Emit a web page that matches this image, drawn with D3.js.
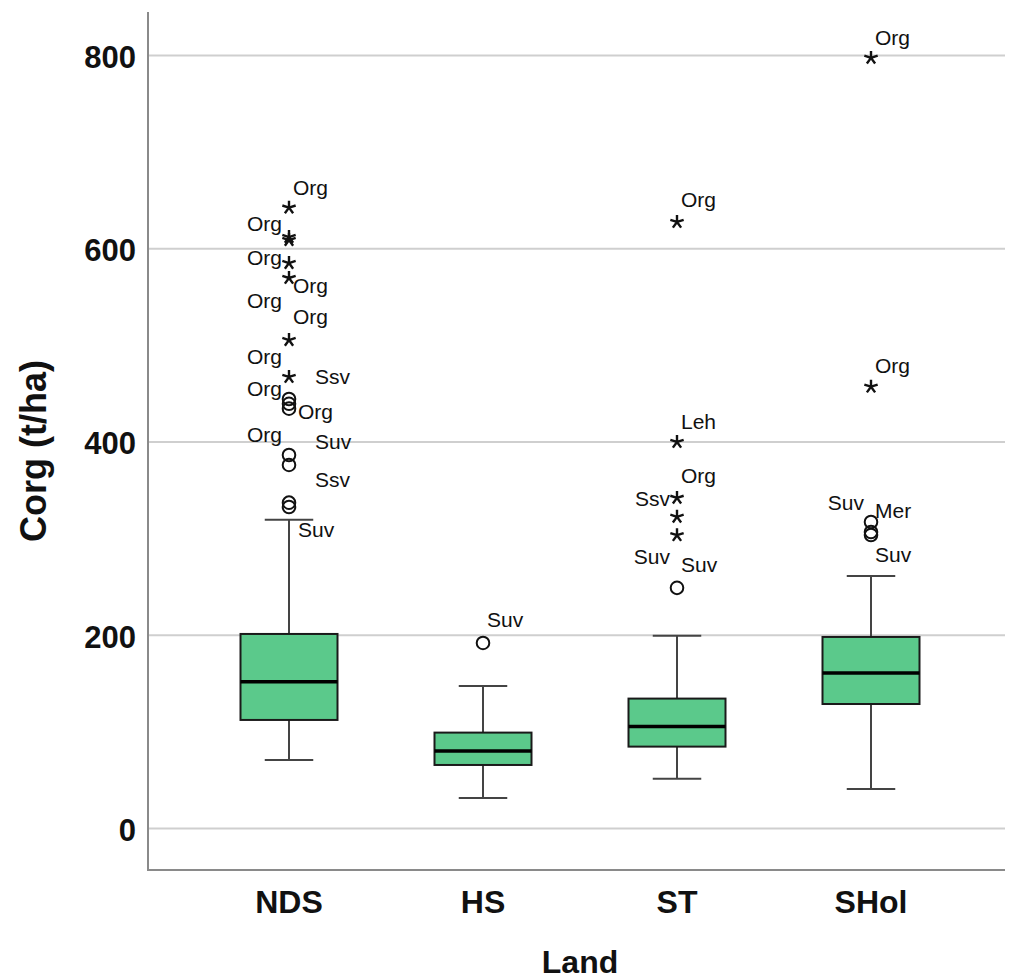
<!DOCTYPE html>
<html>
  <head>
    <meta charset="UTF-8">
    <script src="https://cdnjs.cloudflare.com/ajax/libs/d3/7.8.5/d3.min.js"></script>
  </head>
  <style type="text/css">
    body {
      margin: 0px;
      background: #fff;
    }
    text {
      font-family: "Liberation Sans", Arial, sans-serif;
      fill: #111;
    }
    .grid line {
      stroke: #cfcfcf;
      stroke-width: 2px;
    }
    .tick text {
      font-size: 31px;
      font-weight: bold;
    }
    .axis-line {
      stroke: #8a8a8a;
      stroke-width: 2px;
    }
    .box {
      fill: #5bc98b;
      stroke: #1a1a1a;
      stroke-width: 2px;
    }
    .median {
      stroke: #000;
      stroke-width: 3.5px;
    }
    .whisker {
      stroke: #444;
      stroke-width: 2px;
    }
    .outlier-label {
      font-size: 21px;
    }
  </style>
  <body>
    <div id="chart"></div>
    <script>
      // box statistics per Land
      const categories = ["NDS", "HS", "ST", "SHol"];
      const whiskerLow = [70.4, 31, 51, 40.4];
      const q1 = [111.8, 65.2, 84.2, 128.3];
      const median = [151.3, 79.7, 104.9, 160.4];
      const q3 = [200.8, 98.7, 133.9, 197.7];
      const whiskerHigh = [319, 147, 199, 260.8];
      const yTicks = [0, 200, 400, 600, 800];

      // outliers: [Land, value, kind]  (star = extreme, circle = outlier)
      const outliers = [
        ["NDS", 642, "star"], ["NDS", 611.6, "star"], ["NDS", 608.5, "star"],
        ["NDS", 584.7, "star"], ["NDS", 569.2, "star"], ["NDS", 505, "star"],
        ["NDS", 466.8, "star"],
        ["NDS", 444, "circle"], ["NDS", 439, "circle"], ["NDS", 434, "circle"],
        ["NDS", 386, "circle"], ["NDS", 375.7, "circle"],
        ["NDS", 336.7, "circle"], ["NDS", 332.2, "circle"],
        ["HS", 191.5, "circle"],
        ["ST", 627.2, "star"], ["ST", 399.5, "star"], ["ST", 341.6, "star"],
        ["ST", 322, "star"], ["ST", 303, "star"], ["ST", 248.5, "circle"],
        ["SHol", 797, "star"], ["SHol", 456.7, "star"],
        ["SHol", 316.7, "circle"], ["SHol", 306.3, "circle"], ["SHol", 303.2, "circle"]
      ];

      // case labels: [Land, value at label, text, side]
      const caseLabels = [
        ["NDS", 663.4, "Org", "r"], ["NDS", 626.1, "Org", "l"], ["NDS", 590.5, "Org", "l"],
        ["NDS", 562, "Org", "r"], ["NDS", 546.4, "Org", "l"], ["NDS", 528.9, "Org", "r"],
        ["NDS", 488.5, "Org", "l"], ["NDS", 467, "Ssv", "r2"], ["NDS", 455.4, "Org", "l"],
        ["NDS", 431.6, "Org", "rc"], ["NDS", 407.8, "Org", "l"], ["NDS", 400.5, "Suv", "r2"],
        ["NDS", 361.2, "Ssv", "r2"], ["NDS", 309, "Suv", "rc"],
        ["HS", 215.8, "Suv", "r"],
        ["ST", 650, "Org", "r"], ["ST", 421.2, "Leh", "r"], ["ST", 364.8, "Org", "r"],
        ["ST", 341, "Ssv", "l"], ["ST", 281.5, "Suv", "l"], ["ST", 272.7, "Suv", "r"],
        ["SHol", 818.6, "Org", "r"], ["SHol", 478.7, "Org", "r"], ["SHol", 337.4, "Suv", "l"],
        ["SHol", 329, "Mer", "r"], ["SHol", 283, "Suv", "r"]
      ];

      const width = 1009;
      const height = 980;
      const plot = {left: 148, right: 1005, top: 12, bottom: 870};

      const svg = d3.select("#chart")
        .append("svg")
        .attr("width", width)
        .attr("height", height);

      const y = d3.scaleLinear()
        .domain([-43.5, 844.5])
        .range([plot.bottom, plot.top]);

      const x = d3.scaleBand()
        .domain(categories)
        .range([192, 968])
        .paddingInner(0.5)
        .paddingOuter(0.25);

      // grid + y tick labels
      const yAxis = svg.append("g")
        .attr("class", "grid")
        .attr("transform", `translate(${plot.left},0)`)
        .call(d3.axisLeft(y).tickValues(yTicks).tickSize(-(plot.right - plot.left)).tickPadding(12));
      yAxis.select(".domain").remove();
      yAxis.selectAll(".tick text").attr("dy", "0.4em");

      // axis lines
      svg.append("line").attr("class", "axis-line")
        .attr("x1", plot.left).attr("x2", plot.left)
        .attr("y1", plot.top).attr("y2", plot.bottom + 1);
      svg.append("line").attr("class", "axis-line")
        .attr("x1", plot.left).attr("x2", plot.right)
        .attr("y1", plot.bottom).attr("y2", plot.bottom);

      // category labels
      const xAxis = svg.append("g")
        .attr("transform", `translate(0,${plot.bottom})`)
        .call(d3.axisBottom(x).tickSize(0).tickPadding(20));
      xAxis.select(".domain").remove();
      xAxis.selectAll(".tick text").style("font-size", "32px");

      const bw = x.bandwidth();
      const boxes = svg.append("g").selectAll("g")
        .data(categories)
        .join("g")
        .attr("transform", d => `translate(${x(d) + bw / 2},0)`);

      // whiskers
      boxes.append("line").attr("class", "whisker")
        .attr("y1", (d, i) => y(whiskerLow[i])).attr("y2", (d, i) => y(q1[i]));
      boxes.append("line").attr("class", "whisker")
        .attr("y1", (d, i) => y(q3[i])).attr("y2", (d, i) => y(whiskerHigh[i]));
      boxes.append("line").attr("class", "whisker")
        .attr("x1", -bw / 4).attr("x2", bw / 4)
        .attr("y1", (d, i) => y(whiskerLow[i])).attr("y2", (d, i) => y(whiskerLow[i]));
      boxes.append("line").attr("class", "whisker")
        .attr("x1", -bw / 4).attr("x2", bw / 4)
        .attr("y1", (d, i) => y(whiskerHigh[i])).attr("y2", (d, i) => y(whiskerHigh[i]));

      // box + median
      boxes.append("rect").attr("class", "box")
        .attr("x", -bw / 2).attr("width", bw)
        .attr("y", (d, i) => y(q3[i]))
        .attr("height", (d, i) => y(q1[i]) - y(q3[i]));
      boxes.append("line").attr("class", "median")
        .attr("x1", -bw / 2).attr("x2", bw / 2)
        .attr("y1", (d, i) => y(median[i])).attr("y2", (d, i) => y(median[i]));

      // 5-spoke asterisk for extreme values
      const asterisk = {
        draw(ctx, size) {
          const r = Math.sqrt(size) / 2;
          for (let k = 0; k < 5; k++) {
            const a = -Math.PI / 2 + k * 2 * Math.PI / 5;
            ctx.moveTo(0, 0);
            ctx.lineTo(r * Math.cos(a), r * Math.sin(a));
          }
        }
      };
      const cx = d => x(d) + bw / 2;

      svg.append("g").selectAll("path")
        .data(outliers.filter(d => d[2] === "star"))
        .join("path")
        .attr("transform", d => `translate(${cx(d[0])},${y(d[1])})`)
        .attr("d", d3.symbol().type(asterisk).size(196))
        .attr("fill", "none")
        .attr("stroke", "#111")
        .attr("stroke-width", 2.4);

      svg.append("g").selectAll("circle")
        .data(outliers.filter(d => d[2] === "circle"))
        .join("circle")
        .attr("cx", d => cx(d[0]))
        .attr("cy", d => y(d[1]))
        .attr("r", 6.3)
        .attr("fill", "none")
        .attr("stroke", "#111")
        .attr("stroke-width", 2);

      // case labels
      const sideOffset = {l: -7, r: 4, rc: 9, r2: 26};
      svg.append("g").selectAll("text")
        .data(caseLabels)
        .join("text")
        .attr("class", "outlier-label")
        .attr("x", d => cx(d[0]) + sideOffset[d[3]])
        .attr("y", d => y(d[1]))
        .attr("dy", "0.36em")
        .attr("text-anchor", d => d[3] === "l" ? "end" : "start")
        .text(d => d[2]);

      // axis titles
      svg.append("text")
        .attr("transform", `translate(46,451) rotate(-90)`)
        .attr("text-anchor", "middle")
        .style("font-size", "36px")
        .style("font-weight", "bold")
        .text("Corg (t/ha)");

      svg.append("text")
        .attr("x", 580)
        .attr("y", 973)
        .attr("text-anchor", "middle")
        .style("font-size", "32px")
        .style("font-weight", "bold")
        .text("Land");
    </script>
  </body>
</html>
